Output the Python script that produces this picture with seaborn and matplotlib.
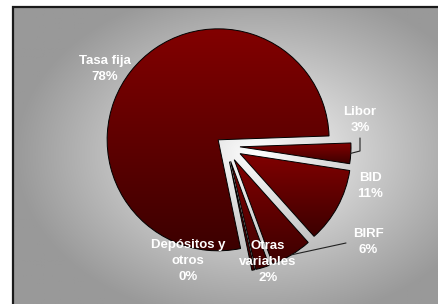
import numpy as np
import matplotlib.pyplot as plt
import seaborn as sns

labels = ['Libor', 'BID', 'BIRF', 'Otras\nvariables', 'Depósitos y\notros', 'Tasa fija']
values = [3, 11, 6, 2, 0.4, 78]
pct_text = ['3%', '11%', '6%', '2%', '0%', '78%']

sns.set_style('white')
plt.rcParams['font.family'] = ['Liberation Sans', 'DejaVu Sans']

W, H = 438, 304
fig = plt.figure(figsize=(W / 100, H / 100), dpi=100)
ax = fig.add_axes([0, 0, 1, 1])

# background: light centre fading to grey
yy, xx = np.mgrid[0:H, 0:W]
u = (xx - 250) / 250.0
v = (yy - 150) / 175.0
t = np.clip(np.sqrt(u ** 2 + v ** 2), 0, 1) ** 0.9
bg = 1.0 - 0.4 * t
ax.imshow(np.dstack([bg, bg, bg]), extent=[14, W, 0, H - 7], origin='upper',
          aspect='auto', zorder=0, interpolation='bilinear')
ax.plot([13, 13, W], [0, H - 7, H - 7], color='#1a1a1a', lw=1.6, zorder=1,
        solid_joinstyle='miter')

# pie (explode in data units here, radius is 111)
explode = [14, 16, 16, 16, 16, 10]
wedges, _ = ax.pie(values, explode=explode, startangle=2, counterclock=False,
                   radius=111, center=(226, H - 146),
                   wedgeprops=dict(edgecolor='black', linewidth=0.7, facecolor='none'))

red_cmap = sns.blend_palette(['#3c0000', '#820000'], as_cmap=True)
grad = np.linspace(0, 1, 256).reshape(-1, 1)
for w in wedges:
    w.set_zorder(3)
    ext = w.get_path().get_extents()
    im = ax.imshow(grad, cmap=red_cmap, origin='lower', aspect='auto',
                   extent=[ext.x0, ext.x1, ext.y0, ext.y1], zorder=2)
    im.set_clip_path(w)

# labels
label_pos = {'Libor': (360, 120), 'BID': (370, 186), 'BIRF': (368, 242),
             'Otras\nvariables': (268, 262), 'Depósitos y\notros': (188, 261),
             'Tasa fija': (105, 69)}
for name, pct in zip(labels, pct_text):
    x, y = label_pos[name]
    ax.text(x, H - y, name + '\n' + pct, color='white', fontsize=9.5,
            fontweight='bold', ha='center', va='center', linespacing=1.4, zorder=5)


def outer_mid(w):
    a = np.deg2rad((w.theta1 + w.theta2) / 2)
    return w.center[0] + w.r * np.cos(a), w.center[1] + w.r * np.sin(a)


lx, ly = outer_mid(wedges[0])
ax.plot([360, 360, lx], [H - 138, H - 151, ly], color='#222222', lw=0.8, zorder=4)
bx, by = outer_mid(wedges[2])
ax.plot([346, bx], [H - 243, by], color='#222222', lw=0.8, zorder=4)

ax.set_xlim(0, W)
ax.set_ylim(0, H)
ax.set_aspect('auto')
ax.axis('off')

fig.savefig('out.png', dpi=100, facecolor='white')
